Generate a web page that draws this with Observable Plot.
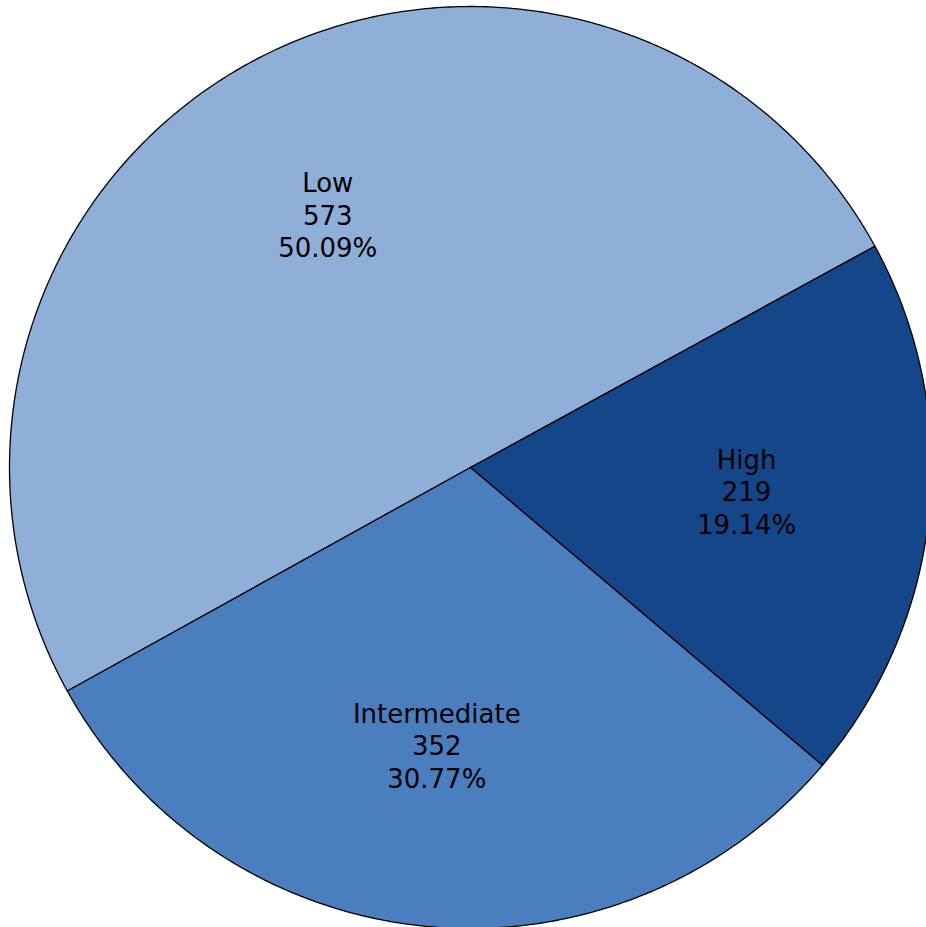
<!DOCTYPE html>
<html>
<head>
<meta charset="utf-8">
<script src="https://cdn.jsdelivr.net/npm/d3@7"></script>
<script src="https://cdn.jsdelivr.net/npm/@observablehq/plot@0.6"></script>
<style>
  html, body { margin: 0; padding: 0; background: #fff; }
  #chart svg { display: block; }
</style>
</head>
<body>
<div id="chart"></div>
<script>
// ---- data ----
const categories = ["Low", "High", "Intermediate"];
const counts = [573, 219, 352];
const colors = ["#8FAFD9", "#15468A", "#4A7EBF"];

// ---- layout ----
const W = 926, H = 927;
const cx = 470, cy = 467, R = 461;          // pixel centre & radius
const startDeg = 241;                        // clockwise from 12 o'clock
const labelFrac = 0.615;

const total = d3.sum(counts);
const pie = d3.pie().sort(null).value(d => d.count)
  .startAngle(startDeg * Math.PI / 180)
  .endAngle((startDeg + 360) * Math.PI / 180);
const rows = categories.map((c, i) => ({ name: c, count: counts[i] }));
const arcs = pie(rows);

// polygon points per slice in unit-radius coordinates (y up)
const pts = [];
for (const a of arcs) {
  const n = Math.max(2, Math.ceil((a.endAngle - a.startAngle) / (Math.PI / 360)));
  pts.push({ name: a.data.name, x: 0, y: 0 });
  for (let k = 0; k <= n; k++) {
    const t = a.startAngle + (a.endAngle - a.startAngle) * k / n;
    pts.push({ name: a.data.name, x: Math.sin(t), y: Math.cos(t) });
  }
  pts.push({ name: a.data.name, x: 0, y: 0 });
}

const labels = arcs.map(a => {
  const m = (a.startAngle + a.endAngle) / 2;
  return {
    name: a.data.name,
    x: labelFrac * Math.sin(m),
    y: labelFrac * Math.cos(m),
    text: `${a.data.name}\n${a.data.count}\n${(a.data.count / total * 100).toFixed(2)}%`
  };
});

const chart = Plot.plot({
  width: W,
  height: H,
  margin: 0,
  style: { background: "white", fontFamily: "'DejaVu Sans', sans-serif" },
  x: { domain: [-cx / R, (W - cx) / R], axis: null },
  y: { domain: [-(H - cy) / R, cy / R], axis: null },
  color: { domain: categories, range: colors },
  marks: [
    Plot.line(pts, {
      x: "x", y: "y", z: "name", fill: "name",
      stroke: "black", strokeWidth: 1.3, strokeLinejoin: "round", curve: "linear"
    }),
    Plot.text(labels, {
      x: "x", y: "y", text: "text", dx: -6, dy: -5,
      fontSize: 26, lineHeight: 1.25, fill: "black",
      fontFamily: "'DejaVu Sans', sans-serif"
    })
  ]
});
document.getElementById("chart").appendChild(chart);
</script>
</body>
</html>
